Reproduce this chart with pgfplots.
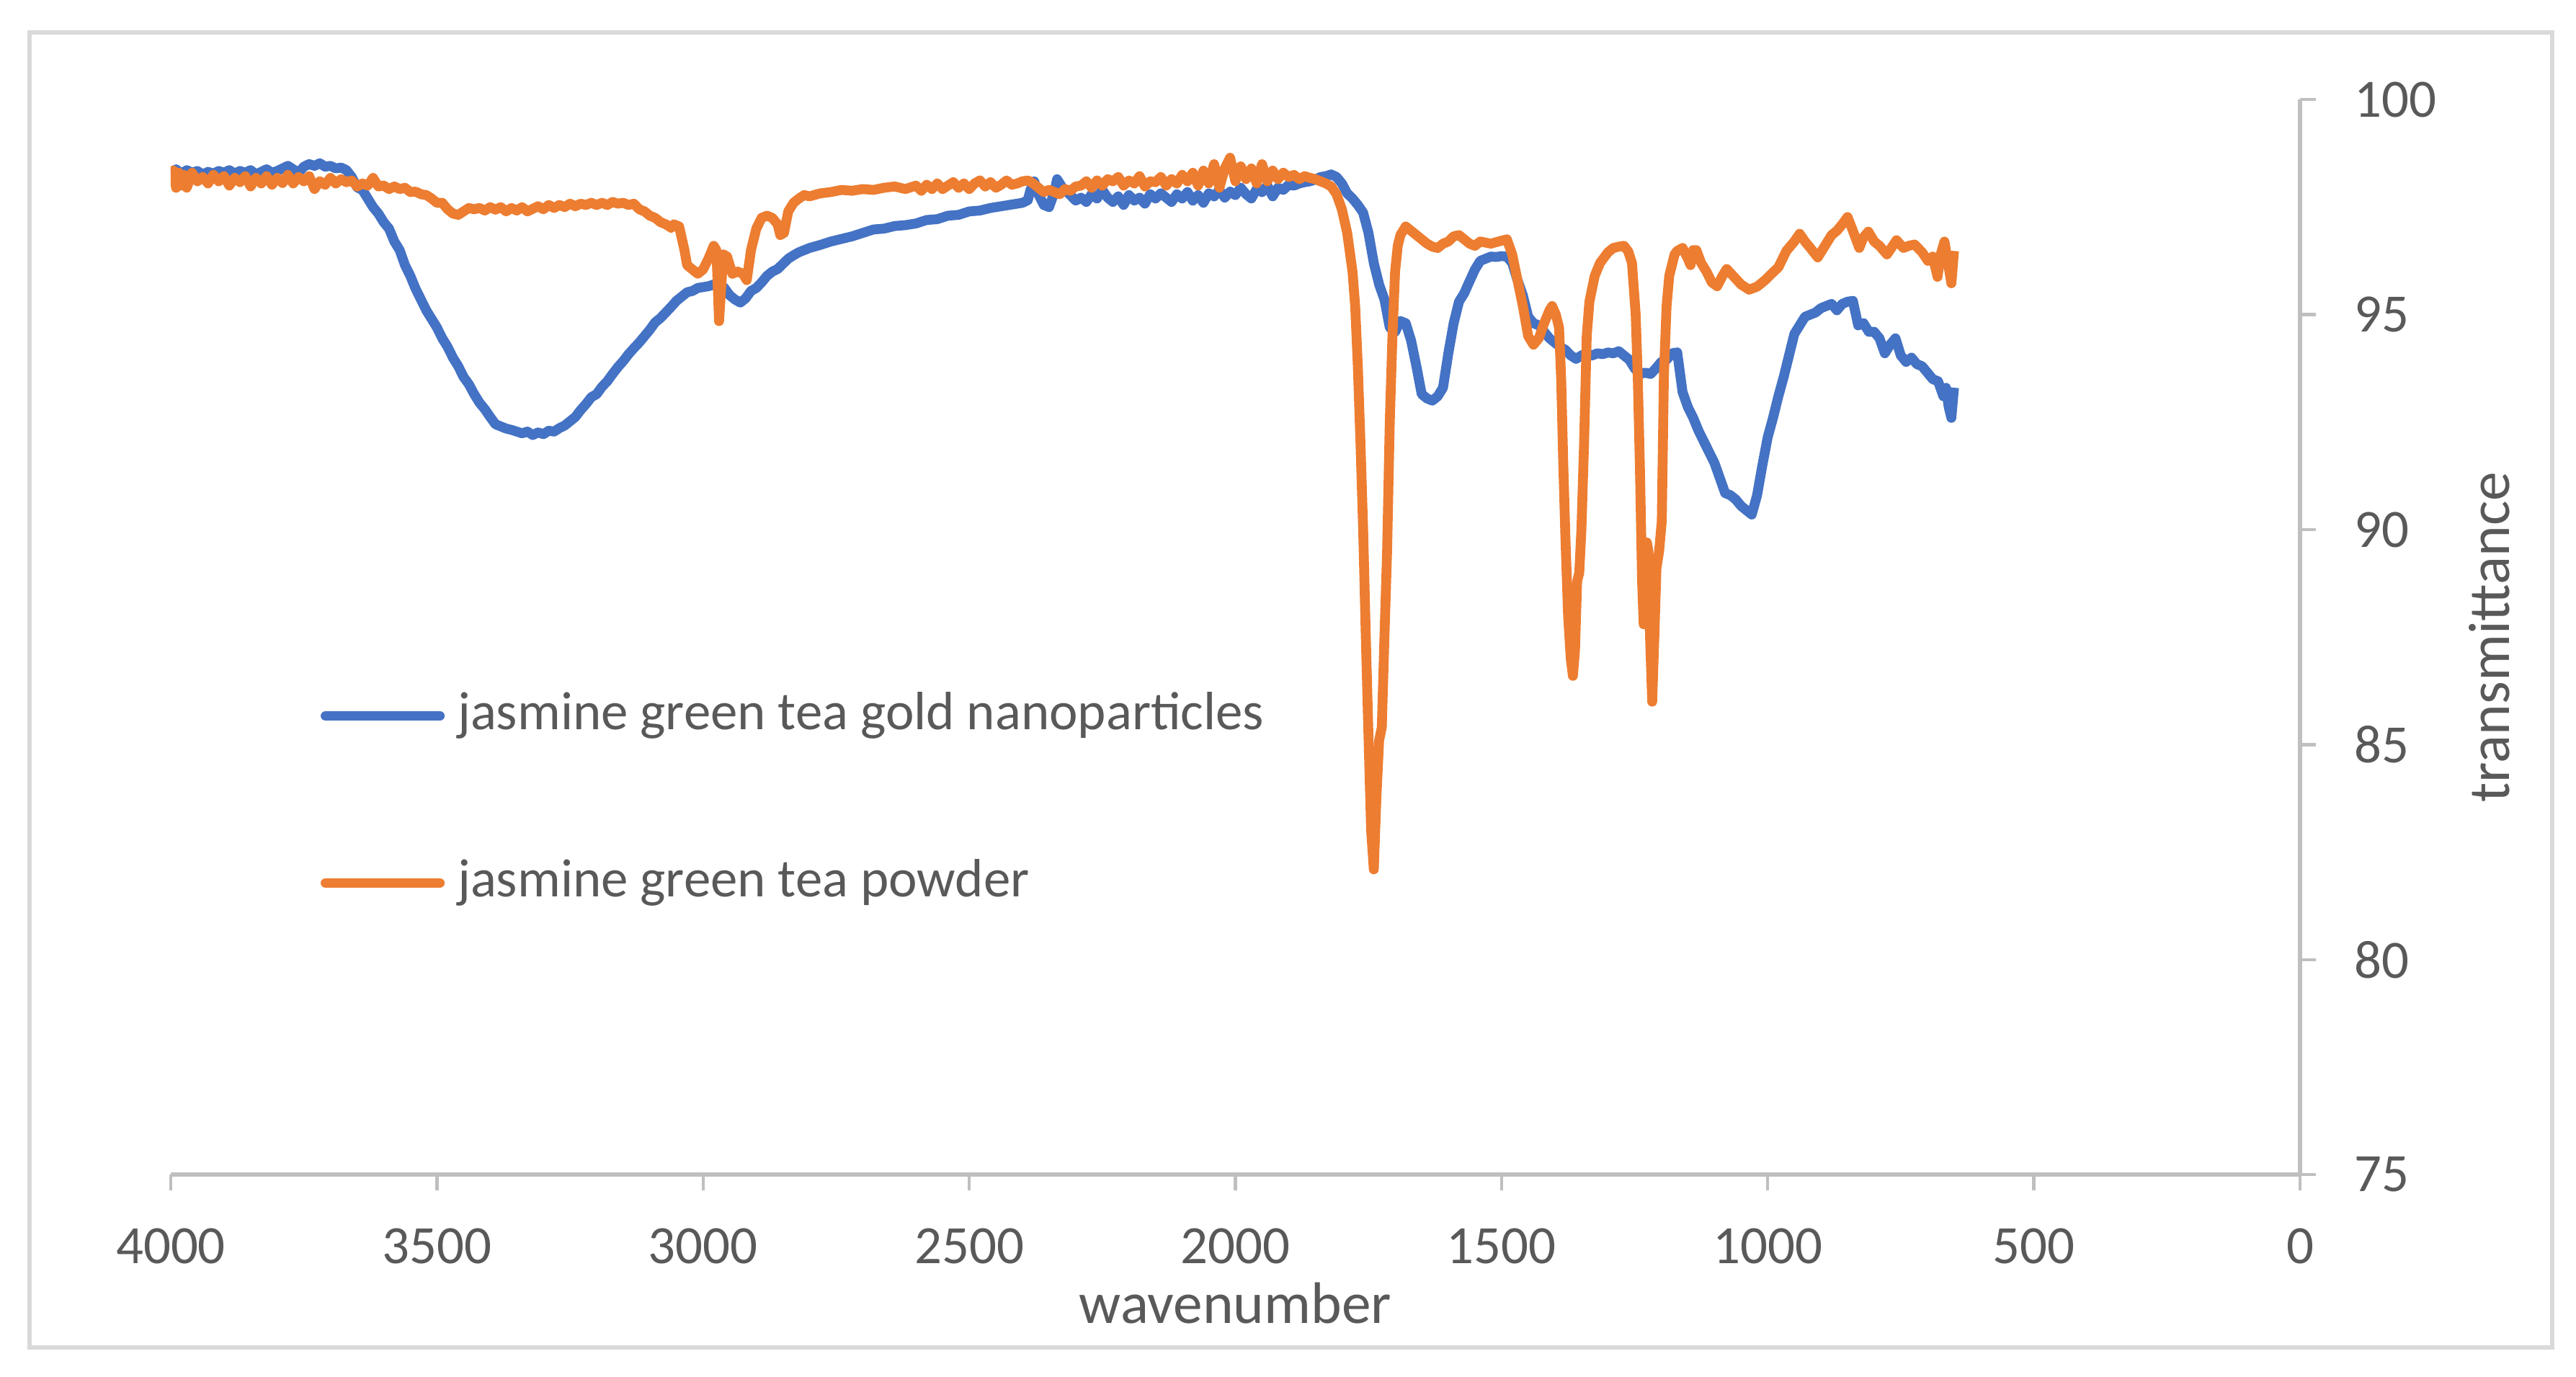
\documentclass[border=0pt]{standalone}
\usepackage{fontspec}
\setmainfont{Carlito}
\usepackage{pgfplots}
\pgfplotsset{compat=1.18}
\definecolor{nanoblue}{HTML}{4472C4}
\definecolor{powderorange}{HTML}{ED7D31}
\definecolor{axisgray}{HTML}{BFBFBF}
\definecolor{textgray}{HTML}{595959}
\definecolor{framegray}{HTML}{D9D9D9}
\begin{document}
\begin{tikzpicture}[x=1pt,y=1pt]
\path[use as bounding box] (0,0) rectangle (496.5,265.3);
\draw[framegray, line width=0.85pt] (5.7,5.6) rectangle (491.9,259.0);
\begin{axis}[
  at={(32.92pt,38.9pt)}, anchor=south west,
  scale only axis, width=410.4pt, height=207.2pt,
  x dir=reverse,
  xmin=0, xmax=4000, ymin=75, ymax=100,
  xtick={0,500,...,4000}, ytick={75,80,...,100},
  axis x line*=bottom, axis y line*=right,
  axis line style={-, draw=axisgray, line width=0.9pt},
  x axis line style={-}, y axis line style={-},
  tick align=outside, major tick length=3pt,
  tick style={draw=axisgray, line width=0.6pt},
  /pgf/number format/assume math mode=true,
  /pgf/number format/set thousands separator={},
  ticklabel style={font=\fontsize{10.4}{12.5}\selectfont, text=textgray},
  xticklabel style={yshift=-3.8pt},
  yticklabel style={xshift=4pt},
  xlabel={wavenumber}, ylabel={transmittance},
  every axis x label/.style={at={(axis description cs:0.5,0)}, anchor=base, yshift=-28.7pt, font=\fontsize{11.3}{13.5}\selectfont, text=textgray},
  every axis y label/.style={at={(axis description cs:1,0.5)}, xshift=36.5pt, rotate=90, anchor=center, font=\fontsize{11.3}{13.5}\selectfont, text=textgray},
  legend cell align=left,
  legend style={at={(axis description cs:0.0626,0.349)}, anchor=west, draw=none, fill=none,
    font=\fontsize{10.4}{12.5}\selectfont, text=textgray,
    nodes={inner sep=0pt, text depth=0.22em, text height=0.75em},
    row sep=22.5pt, column sep=2.5pt},
  legend image code/.code={\draw[#1, line width=1.9pt, line cap=round] (0pt,0pt) -- (22pt,0pt);},
  every axis plot/.append style={line width=1.9pt, line join=round},
]
\addplot[nanoblue, mark=none] coordinates {
(4000,98.30)(3990,98.38)(3980,98.28)(3970,98.36)(3960,98.30)(3950,98.34)(3940,98.26)(3930,98.32)(3920,98.28)(3910,98.34)
(3900,98.30)(3890,98.36)(3880,98.28)(3870,98.34)(3860,98.30)(3850,98.36)(3840,98.26)(3830,98.32)(3820,98.38)(3810,98.30)
(3800,98.34)(3790,98.40)(3780,98.46)(3770,98.38)(3760,98.30)(3750,98.44)(3740,98.50)(3730,98.46)(3720,98.52)(3710,98.44)
(3700,98.46)(3690,98.40)(3680,98.42)(3670,98.36)(3660,98.20)(3650,97.96)(3640,97.90)(3630,97.70)(3620,97.50)(3610,97.35)
(3600,97.15)(3590,97.00)(3580,96.70)(3570,96.50)(3560,96.15)(3550,95.90)(3540,95.60)(3530,95.35)(3520,95.10)(3510,94.90)
(3500,94.70)(3490,94.45)(3480,94.25)(3470,94.00)(3460,93.80)(3450,93.55)(3440,93.38)(3430,93.15)(3420,92.95)(3410,92.80)
(3400,92.62)(3390,92.45)(3380,92.40)(3370,92.35)(3360,92.32)(3350,92.28)(3340,92.24)(3330,92.28)(3320,92.20)(3310,92.26)
(3300,92.22)(3290,92.30)(3280,92.28)(3270,92.36)(3260,92.42)(3250,92.52)(3240,92.62)(3230,92.78)(3220,92.92)(3210,93.08)
(3200,93.15)(3190,93.32)(3180,93.45)(3170,93.62)(3160,93.78)(3150,93.92)(3140,94.08)(3130,94.22)(3120,94.35)(3110,94.50)
(3100,94.65)(3090,94.82)(3080,94.92)(3070,95.05)(3060,95.18)(3050,95.32)(3040,95.42)(3030,95.52)(3020,95.55)(3010,95.62)
(3000,95.64)(2990,95.66)(2980,95.70)(2970,95.72)(2960,95.62)(2950,95.45)(2940,95.35)(2930,95.28)(2920,95.38)(2910,95.55)
(2900,95.62)(2890,95.75)(2880,95.90)(2870,96.00)(2860,96.06)(2850,96.18)(2840,96.30)(2830,96.38)(2820,96.45)(2810,96.50)
(2800,96.55)(2780,96.62)(2760,96.70)(2740,96.76)(2720,96.82)(2700,96.90)(2680,96.98)(2660,97.00)(2640,97.06)(2620,97.08)
(2600,97.12)(2580,97.20)(2560,97.22)(2540,97.30)(2520,97.32)(2500,97.40)(2480,97.42)(2460,97.48)(2440,97.52)(2420,97.56)
(2400,97.60)(2390,97.66)(2385,97.90)(2378,98.10)(2370,97.80)(2360,97.55)(2350,97.50)(2340,97.85)(2335,98.15)(2325,97.95)
(2310,97.78)(2300,97.65)(2290,97.72)(2280,97.62)(2270,97.80)(2260,97.70)(2250,97.90)(2240,97.72)(2230,97.62)(2220,97.75)
(2210,97.55)(2200,97.78)(2190,97.65)(2180,97.72)(2170,97.58)(2160,97.80)(2150,97.70)(2140,97.82)(2130,97.72)(2120,97.62)
(2110,97.80)(2100,97.70)(2090,97.85)(2080,97.65)(2070,97.78)(2060,97.60)(2050,97.82)(2040,97.75)(2030,97.90)(2020,97.72)
(2010,97.86)(2000,97.78)(1990,97.95)(1980,97.80)(1970,97.70)(1960,97.92)(1950,97.85)(1940,98.00)(1930,97.75)(1920,97.95)
(1910,97.90)(1900,98.02)(1890,98.00)(1880,98.05)(1870,98.08)(1860,98.10)(1850,98.14)(1840,98.20)(1830,98.22)(1820,98.26)
(1810,98.20)(1800,98.05)(1790,97.82)(1780,97.70)(1770,97.55)(1760,97.37)(1750,96.90)(1740,96.20)(1730,95.70)(1720,95.35)
(1710,94.70)(1700,94.60)(1690,94.85)(1680,94.80)(1670,94.40)(1660,93.80)(1650,93.15)(1640,93.05)(1630,93.00)(1620,93.10)
(1610,93.30)(1600,94.10)(1590,94.80)(1580,95.30)(1570,95.50)(1560,95.78)(1550,96.05)(1540,96.25)(1530,96.30)(1520,96.35)
(1510,96.34)(1500,96.36)(1490,96.35)(1480,96.20)(1470,95.80)(1460,95.45)(1450,94.95)(1440,94.80)(1430,94.75)(1420,94.60)
(1410,94.45)(1400,94.35)(1390,94.25)(1380,94.18)(1370,94.05)(1360,93.97)(1350,94.05)(1340,94.10)(1330,94.05)(1320,94.10)
(1310,94.08)(1300,94.12)(1290,94.10)(1280,94.15)(1270,94.05)(1260,93.95)(1250,93.75)(1240,93.62)(1230,93.65)(1220,93.62)
(1210,93.75)(1200,93.90)(1190,93.95)(1180,94.10)(1170,94.12)(1160,93.20)(1150,92.85)(1140,92.60)(1130,92.30)(1120,92.05)
(1110,91.80)(1100,91.55)(1090,91.20)(1080,90.85)(1070,90.80)(1060,90.70)(1050,90.55)(1040,90.45)(1030,90.35)(1020,90.80)
(1010,91.50)(1000,92.15)(990,92.60)(980,93.10)(970,93.55)(960,94.05)(950,94.55)(940,94.75)(930,94.95)(920,95.00)
(910,95.05)(900,95.15)(890,95.20)(880,95.25)(870,95.10)(860,95.25)(850,95.30)(840,95.32)(830,94.75)(820,94.80)
(810,94.60)(800,94.60)(790,94.45)(780,94.10)(770,94.30)(760,94.45)(750,94.05)(740,93.90)(730,94.00)(720,93.85)
(710,93.80)(700,93.65)(690,93.50)(680,93.45)(670,93.10)(665,93.30)(660,92.85)(655,92.60)(650,93.30)
};
\addlegendentry{jasmine green tea gold nanoparticles}
\addplot[powderorange, mark=none] coordinates {
(4000,98.00)(3995,98.35)(3990,97.95)(3985,98.30)(3980,98.00)(3975,98.25)(3970,97.95)(3960,98.30)(3950,98.10)(3940,98.20)
(3930,98.05)(3920,98.25)(3910,98.10)(3900,98.22)(3890,98.00)(3880,98.18)(3870,98.08)(3860,98.22)(3850,97.98)(3840,98.18)
(3830,98.05)(3820,98.22)(3810,98.02)(3800,98.18)(3790,98.06)(3780,98.25)(3770,98.05)(3760,98.20)(3750,98.10)(3740,98.22)
(3730,97.92)(3720,98.10)(3710,98.02)(3700,98.18)(3690,98.05)(3680,98.15)(3670,98.08)(3660,98.12)(3650,97.98)(3640,98.05)
(3630,98.00)(3620,98.18)(3610,97.98)(3600,98.00)(3590,97.92)(3580,97.98)(3570,97.92)(3560,97.95)(3550,97.85)(3540,97.86)
(3530,97.80)(3520,97.78)(3510,97.70)(3500,97.60)(3490,97.60)(3480,97.45)(3470,97.35)(3460,97.32)(3450,97.40)(3440,97.48)
(3430,97.45)(3420,97.48)(3410,97.42)(3400,97.50)(3390,97.44)(3380,97.50)(3370,97.40)(3360,97.48)(3350,97.42)(3340,97.50)
(3330,97.40)(3320,97.46)(3310,97.52)(3300,97.45)(3290,97.55)(3280,97.48)(3270,97.55)(3260,97.50)(3250,97.58)(3240,97.52)
(3230,97.58)(3220,97.55)(3210,97.60)(3200,97.55)(3190,97.60)(3180,97.55)(3170,97.62)(3160,97.58)(3150,97.60)(3140,97.55)
(3130,97.58)(3120,97.45)(3110,97.40)(3100,97.30)(3090,97.25)(3080,97.15)(3070,97.10)(3060,97.02)(3055,97.10)(3045,97.05)
(3035,96.50)(3030,96.15)(3020,96.05)(3010,95.95)(3000,96.05)(2990,96.30)(2980,96.60)(2975,96.50)(2970,94.85)(2962,96.40)
(2955,96.35)(2945,95.95)(2935,96.00)(2925,95.95)(2918,95.80)(2910,96.50)(2900,97.00)(2890,97.25)(2880,97.30)(2870,97.25)
(2860,97.10)(2855,96.85)(2848,96.90)(2840,97.40)(2830,97.60)(2820,97.70)(2810,97.78)(2800,97.75)(2780,97.82)(2760,97.85)
(2740,97.90)(2720,97.88)(2700,97.92)(2680,97.90)(2660,97.95)(2640,97.98)(2620,97.92)(2600,98.00)(2590,97.88)(2580,98.02)
(2570,97.92)(2560,98.05)(2550,97.92)(2540,98.00)(2530,98.08)(2520,97.95)(2510,98.05)(2500,97.92)(2490,98.05)(2480,98.12)
(2470,97.98)(2460,98.08)(2450,97.95)(2440,98.02)(2430,98.12)(2420,98.02)(2410,98.05)(2400,98.10)(2390,98.12)(2380,98.05)
(2370,97.95)(2360,97.85)(2350,97.90)(2340,97.85)(2330,97.80)(2320,97.92)(2310,97.88)(2300,97.98)(2290,98.00)(2280,98.10)
(2270,97.95)(2260,98.12)(2250,98.00)(2240,98.15)(2230,98.10)(2220,98.20)(2210,98.00)(2200,98.12)(2190,98.05)(2180,98.22)
(2170,97.98)(2160,98.10)(2150,98.08)(2140,98.20)(2130,98.00)(2120,98.15)(2110,98.05)(2100,98.25)(2090,98.10)(2080,98.30)
(2070,98.00)(2060,98.35)(2050,98.05)(2040,98.50)(2030,97.95)(2020,98.40)(2010,98.65)(2000,98.10)(1990,98.45)(1980,98.15)
(1970,98.40)(1960,98.05)(1950,98.50)(1940,98.10)(1930,98.35)(1920,98.15)(1910,98.30)(1900,98.20)(1890,98.25)(1880,98.15)
(1870,98.22)(1860,98.18)(1850,98.15)(1840,98.10)(1830,98.05)(1820,97.98)(1810,97.80)(1800,97.45)(1790,96.90)(1780,96.00)
(1775,95.20)(1770,93.80)(1765,92.00)(1760,90.00)(1755,87.50)(1750,85.20)(1745,83.00)(1740,82.10)(1735,83.80)(1730,85.10)
(1725,85.40)(1720,87.50)(1715,89.50)(1710,92.50)(1705,94.50)(1700,96.00)(1695,96.60)(1690,96.85)(1680,97.05)(1670,96.95)
(1660,96.85)(1650,96.75)(1640,96.65)(1630,96.58)(1620,96.55)(1610,96.65)(1600,96.70)(1590,96.82)(1580,96.85)(1570,96.75)
(1560,96.65)(1550,96.60)(1540,96.70)(1520,96.65)(1500,96.72)(1490,96.75)(1480,96.40)(1470,95.80)(1460,95.20)(1450,94.50)
(1440,94.30)(1430,94.45)(1420,94.80)(1410,95.10)(1405,95.20)(1398,95.00)(1392,94.70)(1388,93.50)(1384,91.50)(1380,89.80)
(1375,88.00)(1370,87.00)(1366,86.60)(1362,87.20)(1358,88.80)(1354,89.00)(1350,90.00)(1345,92.00)(1340,94.50)(1335,95.30)
(1325,95.90)(1315,96.20)(1300,96.45)(1290,96.55)(1280,96.58)(1270,96.60)(1262,96.47)(1255,96.20)(1248,95.00)(1244,93.50)
(1240,91.40)(1236,88.80)(1233,87.80)(1230,88.20)(1227,89.70)(1224,89.50)(1221,87.50)(1217,86.00)(1213,87.50)(1209,89.10)
(1204,89.50)(1199,90.20)(1195,93.60)(1190,95.20)(1185,95.90)(1175,96.40)(1170,96.48)(1160,96.55)(1150,96.30)(1145,96.15)
(1140,96.50)(1134,96.50)(1125,96.20)(1115,96.00)(1105,95.75)(1095,95.66)(1085,95.90)(1077,96.06)(1065,95.90)(1050,95.70)
(1035,95.58)(1020,95.65)(1005,95.80)(992,95.96)(980,96.10)(965,96.48)(950,96.70)(940,96.88)(930,96.70)(920,96.55)
(906,96.33)(895,96.55)(880,96.85)(870,96.95)(860,97.10)(850,97.27)(840,96.95)(828,96.55)(820,96.80)(811,96.93)
(800,96.70)(790,96.60)(776,96.40)(765,96.60)(758,96.73)(745,96.55)(735,96.60)(724,96.63)(710,96.45)(699,96.25)
(690,96.35)(681,95.88)(675,96.40)(668,96.70)(660,96.10)(655,95.73)(650,96.48)
};
\addlegendentry{jasmine green tea powder}
\end{axis}
\end{tikzpicture}
\end{document}
